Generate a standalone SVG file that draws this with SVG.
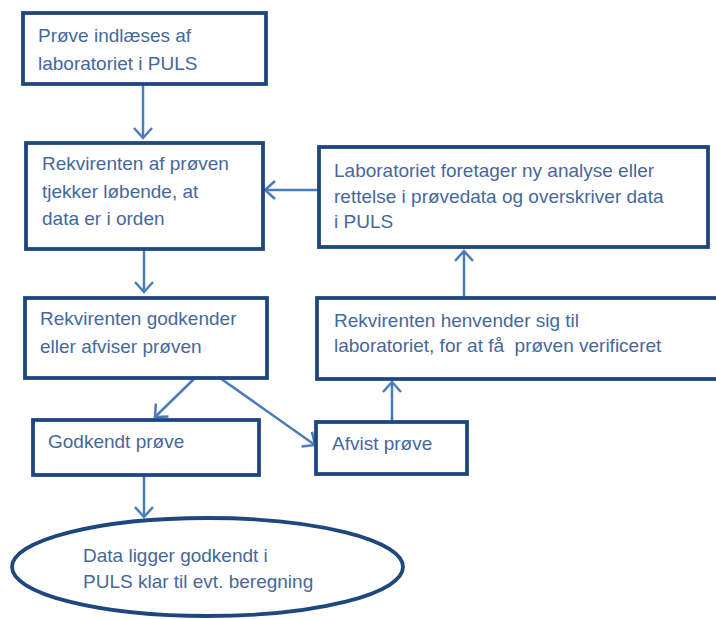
<svg xmlns="http://www.w3.org/2000/svg" width="716" height="619" viewBox="0 0 716 619">
<defs>
<style>
.box{fill:#ffffff;stroke:#1f477f;stroke-width:3.8}
.t{font-family:"Liberation Sans",Arial,sans-serif;font-size:19px;fill:#46689a}
.c{fill:none;stroke:#4a7cbc;stroke-width:2.5}
</style>
<marker id="ah" markerUnits="userSpaceOnUse" markerWidth="24" markerHeight="24" viewBox="-12 -12 24 24" refX="0" refY="0" orient="auto">
<path d="M-10,-9 L0,0 L-10,9" fill="none" stroke="#4a7cbc" stroke-width="2.5"/>
</marker>
</defs>
<rect width="716" height="619" fill="#ffffff"/>
<g id="connectors">
<line class="c" x1="143" y1="84" x2="143" y2="138" marker-end="url(#ah)"/>
<line class="c" x1="144" y1="249" x2="144" y2="292" marker-end="url(#ah)"/>
<line class="c" x1="195" y1="378" x2="155" y2="417" marker-end="url(#ah)"/>
<line class="c" x1="220" y1="378" x2="315" y2="445" marker-end="url(#ah)"/>
<line class="c" x1="144" y1="475" x2="144" y2="517" marker-end="url(#ah)"/>
<line class="c" x1="392" y1="422" x2="392" y2="382" marker-end="url(#ah)"/>
<line class="c" x1="464" y1="298" x2="464" y2="251" marker-end="url(#ah)"/>
<line class="c" x1="319" y1="190" x2="265" y2="190" marker-end="url(#ah)"/>
</g>
<g id="n1">
<rect class="box" x="23" y="13" width="243" height="71"/>
<text class="t" x="38" y="42">Prøve indlæses af</text>
<text class="t" x="38" y="70">laboratoriet i PULS</text>
</g>
<g id="n2">
<rect class="box" x="26" y="143" width="237" height="106"/>
<text class="t" x="42" y="170">Rekvirenten af prøven</text>
<text class="t" x="42" y="198">tjekker løbende, at</text>
<text class="t" x="42" y="225">data er i orden</text>
</g>
<g id="n3">
<rect class="box" x="25" y="298" width="242" height="80"/>
<text class="t" x="40" y="325">Rekvirenten godkender</text>
<text class="t" x="40" y="353">eller afviser prøven</text>
</g>
<g id="n4">
<rect class="box" x="33" y="420" width="226" height="55"/>
<text class="t" x="48" y="448">Godkendt prøve</text>
</g>
<g id="n5">
<rect class="box" x="316" y="422" width="151" height="52"/>
<text class="t" x="332" y="450">Afvist prøve</text>
</g>
<g id="n6">
<rect class="box" x="317" y="298" width="402" height="81"/>
<text class="t" x="334" y="327">Rekvirenten henvender sig til</text>
<text class="t" x="334" y="352" xml:space="preserve">laboratoriet, for at få  prøven verificeret</text>
</g>
<g id="n7">
<rect class="box" x="319" y="147" width="389" height="100"/>
<text class="t" x="334" y="177">Laboratoriet foretager ny analyse eller</text>
<text class="t" x="334" y="203">rettelse i prøvedata og overskriver data</text>
<text class="t" x="334" y="228">i PULS</text>
</g>
<g id="n8">
<ellipse class="box" cx="207.5" cy="567" rx="195.5" ry="49"/>
<text class="t" x="83" y="562">Data ligger godkendt i</text>
<text class="t" x="83" y="588">PULS klar til evt. beregning</text>
</g>
</svg>
